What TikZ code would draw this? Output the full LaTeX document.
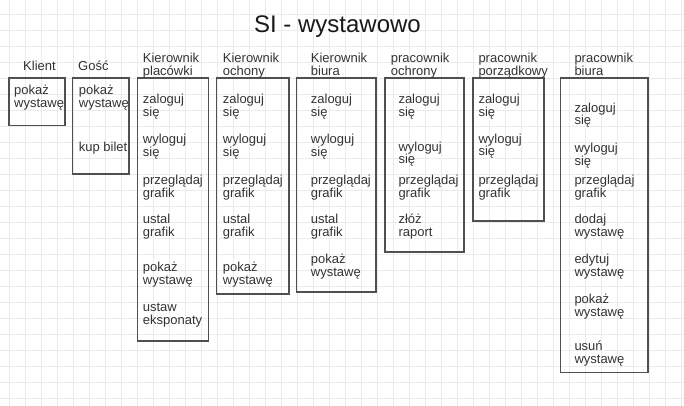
\documentclass[tikz,border=0pt]{standalone}
\usepackage{fontspec}
\setmainfont{Liberation Sans}
\definecolor{gridgray}{HTML}{EBEBEB}
\definecolor{boxgray}{HTML}{505050}
\definecolor{txtgray}{HTML}{333333}

\begin{document}
\begin{tikzpicture}[x=1pt,y=-1pt,
  item/.style={anchor=base west,align=left,inner sep=0pt,text=txtgray,font=\fontsize{13}{13}\selectfont},
  box/.style={draw=boxgray,line width=1.3pt}]
\useasboundingbox (0,0) rectangle (684,406);
\fill[white] (0,0) rectangle (684,406);
% background grid
\foreach \gx in {9,25,...,681} \draw[gridgray,line width=0.7pt] (\gx,0) -- (\gx,406);
\foreach \gy in {14.5,30.5,...,406} \draw[gridgray,line width=0.7pt] (0,\gy) -- (684,\gy);
% title
\node[anchor=base,inner sep=0pt,text=black!90,font=\fontsize{24}{24}\selectfont] (title) at (337.5,33) {SI - wystawowo};
% boxes
\draw[box] (9,78) rectangle (65,125.5);
\draw[box] (72.7,78) rectangle (129,174);
\draw[box] (137.3,78) rectangle (208.3,341);
\draw[box] (216.7,78) rectangle (289,294);
\draw[box] (296.7,78) rectangle (376,292);
\draw[box] (385,78) rectangle (464,252);
\draw[box] (473,78) rectangle (544,221);
\draw[box] (560.7,78) rectangle (648,372.7);
% headers (base = last line)
\node[item] (klient) at (23,71) {Klient};
\node[item] (gosc) at (78,71) {Gość};
\node[item] (kplac) at (142.7,76) {Kierownik\\placówki};
\node[item] (kochr) at (222.7,76) {Kierownik\\ochony};
\node[item] (kbiur) at (310.7,76) {Kierownik\\biura};
\node[item] (pochr) at (390.7,76) {pracownik\\ochrony};
\node[item] (pporz) at (478.3,76) {pracownik\\porządkowy};
\node[item] (pbiur) at (574.3,76) {pracownik\\biura};
% Klient
\node[item] (kl1) at (14,108) {pokaż\\wystawę};
% Gosc
\node[item] (go1) at (78.7,108) {pokaż\\wystawę};
\node[item] (go2) at (78.7,151) {kup bilet};
% Kierownik placowki
\node[item] (kp1) at (142.7,117) {zaloguj\\się};
\node[item] (kp2) at (142.7,157) {wyloguj\\się};
\node[item] (kp3) at (142.7,197) {przeglądaj\\grafik};
\node[item] (kp4) at (142.7,236) {ustal\\grafik};
\node[item] (kp5) at (142.7,284) {pokaż\\wystawę};
\node[item] (kp6) at (142.7,324) {ustaw\\eksponaty};
% Kierownik ochony
\node[item] (ko1) at (222.7,117) {zaloguj\\się};
\node[item] (ko2) at (222.7,157) {wyloguj\\się};
\node[item] (ko3) at (222.7,197) {przeglądaj\\grafik};
\node[item] (ko4) at (222.7,236) {ustal\\grafik};
\node[item] (ko5) at (222.7,284) {pokaż\\wystawę};
% Kierownik biura
\node[item] (kb1) at (310.7,117) {zaloguj\\się};
\node[item] (kb2) at (310.7,157) {wyloguj\\się};
\node[item] (kb3) at (310.7,197) {przeglądaj\\grafik};
\node[item] (kb4) at (310.7,236) {ustal\\grafik};
\node[item] (kb5) at (310.7,276) {pokaż\\wystawę};
% pracownik ochrony
\node[item] (po1) at (398.3,117) {zaloguj\\się};
\node[item] (po2) at (398.3,164) {wyloguj\\się};
\node[item] (po3) at (398.3,197) {przeglądaj\\grafik};
\node[item] (po4) at (398.3,236) {złóż\\raport};
% pracownik porzadkowy
\node[item] (pp1) at (478.3,117) {zaloguj\\się};
\node[item] (pp2) at (478.3,156) {wyloguj\\się};
\node[item] (pp3) at (478.3,197) {przeglądaj\\grafik};
% pracownik biura
\node[item] (pb1) at (574.3,125) {zaloguj\\się};
\node[item] (pb2) at (574.3,165) {wyloguj\\się};
\node[item] (pb3) at (574.3,197) {przeglądaj\\grafik};
\node[item] (pb4) at (574.3,236) {dodaj\\wystawę};
\node[item] (pb5) at (574.3,276) {edytuj\\wystawę};
\node[item] (pb6) at (574.3,316) {pokaż\\wystawę};
\node[item] (pb7) at (574.3,363) {usuń\\wystawę};
\end{tikzpicture}
\end{document}
